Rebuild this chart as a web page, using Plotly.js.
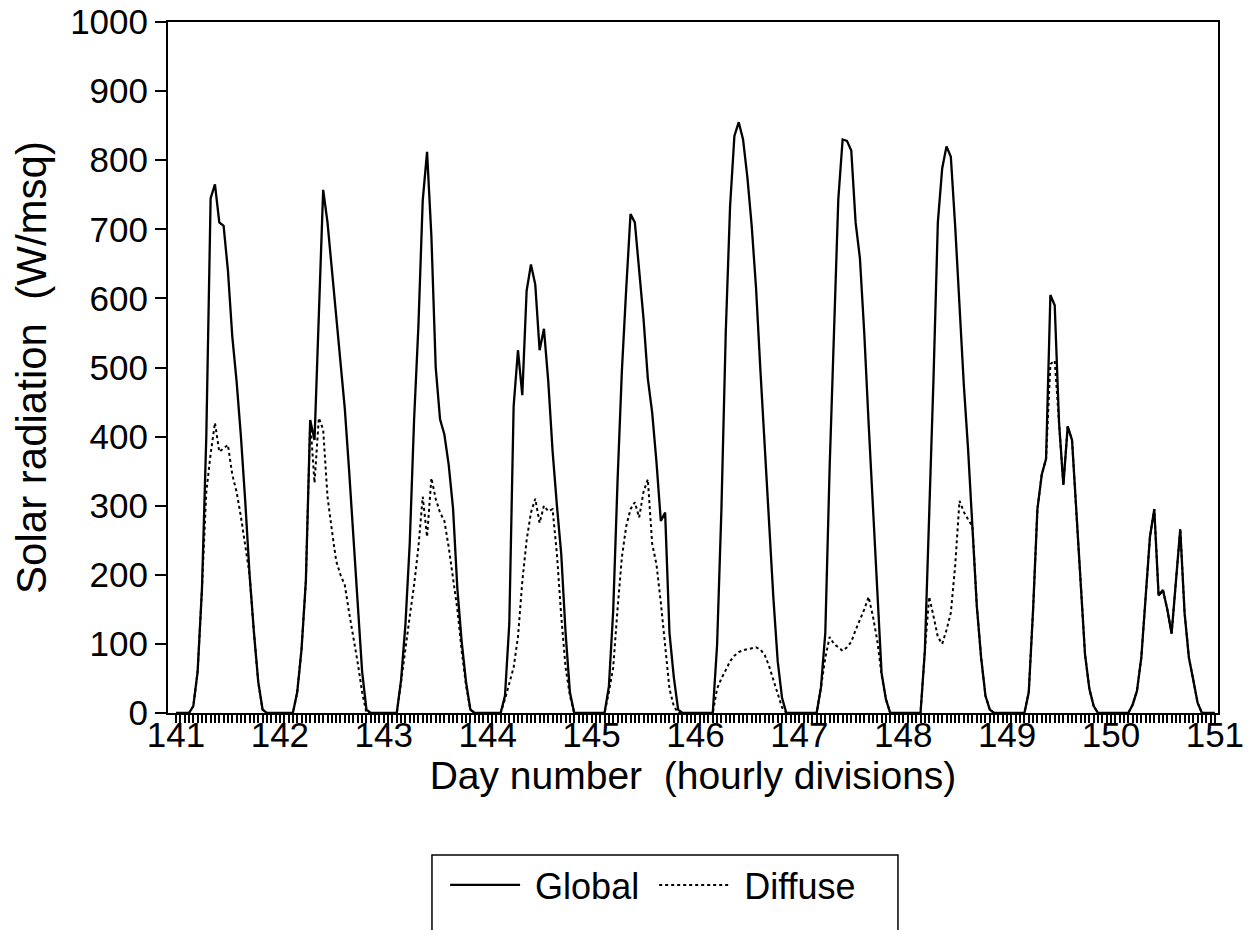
<!DOCTYPE html>
<html>
<head>
<meta charset="utf-8">
<script src="https://cdn.plot.ly/plotly-3.0.1.min.js"></script>
<style>html,body{margin:0;padding:0;background:#fff;}#chart{width:1255px;height:930px;}</style>
</head>
<body>
<div id="chart"></div>
<script>
// Day numbers (each day has 24 hourly readings, hour 0..23)
const days = [141, 142, 143, 144, 145, 146, 147, 148, 149, 150];
const xTickDays = [141, 142, 143, 144, 145, 146, 147, 148, 149, 150, 151];
const yTickVals = [0, 100, 200, 300, 400, 500, 600, 700, 800, 900, 1000];

// Global radiation (W/msq), hourly
const global141 = [0,0,0,0,10,60,180,400,745,765,710,705,640,545,480,400,306,200,117,45,5,0,0,0];
const global142 = [0,0,0,0,30,92,191,424,395,590,757,710,640,570,510,440,350,257,168,60,5,0,0,0];
const global143 = [0,0,0,0,48,128,246,424,560,742,812,690,500,425,403,359,296,180,103,45,5,0,0,0];
const global144 = [0,0,0,0,25,130,444,525,460,611,649,620,525,556,480,379,300,230,116,30,0,0,0,0];
const global145 = [0,0,0,0,38,148,335,494,613,722,710,643,571,484,435,363,278,290,116,52,5,0,0,0];
const global146 = [0,0,0,0,0,98,294,550,733,835,855,830,775,705,615,497,386,275,167,75,22,0,0,0];
const global147 = [0,0,0,0,0,37,116,355,565,743,830,828,814,710,658,550,420,295,175,58,20,0,0,0];
const global148 = [0,0,0,0,0,90,280,485,710,788,820,805,705,590,475,380,270,155,80,25,5,0,0,0];
const global149 = [0,0,0,0,0,30,149,295,345,368,605,590,420,330,415,395,290,180,85,35,10,0,0,0];
const global150 = [0,0,0,0,0,12,32,80,175,255,295,170,178,150,115,190,266,145,80,48,15,0,0,0];

// Diffuse radiation (W/msq), hourly
const diffuse141 = [0,0,0,0,10,60,180,320,375,420,378,383,388,345,320,284,245,200,117,45,5,0,0,0];
const diffuse142 = [0,0,0,0,30,92,191,424,333,427,410,313,265,220,200,185,145,110,72,30,0,0,0,0];
const diffuse143 = [0,0,0,0,45,95,140,185,240,313,255,340,310,290,278,240,195,150,90,40,5,0,0,0];
const diffuse144 = [0,0,0,0,20,45,66,110,190,250,290,310,275,300,292,295,230,140,66,25,0,0,0,0];
const diffuse145 = [0,0,0,0,30,66,150,225,270,295,305,283,320,338,245,215,160,95,35,10,0,0,0,0];
const diffuse146 = [0,0,0,0,0,35,50,62,75,83,88,91,92,93,95,92,84,68,48,30,8,0,0,0];
const diffuse147 = [0,0,0,0,0,37,80,110,100,95,90,95,103,120,135,150,168,140,105,55,20,0,0,0];
const diffuse148 = [0,0,0,0,0,90,168,140,110,100,120,145,213,307,291,280,270,155,80,25,5,0,0,0];
const diffuse149 = [0,0,0,0,0,30,149,295,345,368,505,510,420,330,415,395,290,180,85,35,10,0,0,0];
const diffuse150 = [0,0,0,0,0,12,32,80,175,255,295,170,178,150,115,190,266,145,80,48,15,0,0,0];

const globalByDay = [global141,global142,global143,global144,global145,global146,global147,global148,global149,global150];
const diffuseByDay = [diffuse141,diffuse142,diffuse143,diffuse144,diffuse145,diffuse146,diffuse147,diffuse148,diffuse149,diffuse150];

const xs = [], gY = [], dY = [];
days.forEach((d, i) => {
  for (let h = 0; h < 24; h++) {
    xs.push(d + h / 24);
    gY.push(globalByDay[i][h]);
    dY.push(diffuseByDay[i][h]);
  }
});
xs.push(151); gY.push(0); dY.push(0);

// hourly tick marks, labels only on whole days
const hourTicks = [], hourText = [];
xTickDays.forEach((d, i) => {
  const last = i === xTickDays.length - 1;
  for (let h = 0; h < (last ? 1 : 24); h++) {
    hourTicks.push(d + h / 24);
    hourText.push(h === 0 ? String(d) : '');
  }
});

const FONT = 'Liberation Sans, Arial, Helvetica, sans-serif';

const traces = [
  {x: xs, y: gY, type: 'scatter', mode: 'lines', name: '\u00a0Global\u00a0',
   line: {color: '#000', width: 2.3}},
  {x: xs, y: dY, type: 'scatter', mode: 'lines', name: '\u00a0Diffuse',
   line: {color: '#000', width: 2, dash: 'dot'}}
];

const layout = {
  width: 1255, height: 930,
  margin: {l: 168, r: 37, t: 22, b: 217},
  paper_bgcolor: '#fff', plot_bgcolor: '#fff',
  font: {family: FONT, color: '#000', size: 35},
  showlegend: true,
  legend: {orientation: 'h', x: 0.462, xanchor: 'center', y: -0.249, yanchor: 'middle',
           font: {size: 36, family: FONT, color: '#000'}, itemwidth: 70, bgcolor: 'rgba(0,0,0,0)'},
  xaxis: {
    range: [140.923, 151.03], tickmode: 'array', tickvals: hourTicks, ticktext: hourText,
    ticks: 'outside', ticklen: 8, tickwidth: 2, tickcolor: '#000',
    ticklabelstandoff: -18,
    showline: true, linecolor: '#000', linewidth: 2, mirror: true,
    showgrid: false, zeroline: false,
    tickfont: {size: 35, family: FONT, color: '#000'},
    title: {text: 'Day number\u00a0\u00a0(hourly divisions)', font: {size: 39, family: FONT, color: '#000'}, standoff: 0}
  },
  yaxis: {
    range: [0, 1000], tickvals: yTickVals, ticktext: yTickVals.map(String),
    ticks: 'outside', ticklen: 11, tickwidth: 2, tickcolor: '#000',
    showline: true, linecolor: '#000', linewidth: 2, mirror: true,
    showgrid: false, zeroline: false,
    tickfont: {size: 35, family: FONT, color: '#000'},
    title: {text: 'Solar radiation\u00a0\u00a0(W/msq)', font: {size: 42, family: FONT, color: '#000'}, standoff: 10}
  },
  shapes: [
    {type: 'rect', xref: 'paper', yref: 'paper', x0: 0.2514, x1: 0.6952, y0: -0.2055, y1: -0.345,
     line: {color: '#000', width: 1.5}, fillcolor: 'rgba(0,0,0,0)'}
  ]
};

Plotly.newPlot('chart', traces, layout, {displayModeBar: false, staticPlot: true});
</script>
</body>
</html>
